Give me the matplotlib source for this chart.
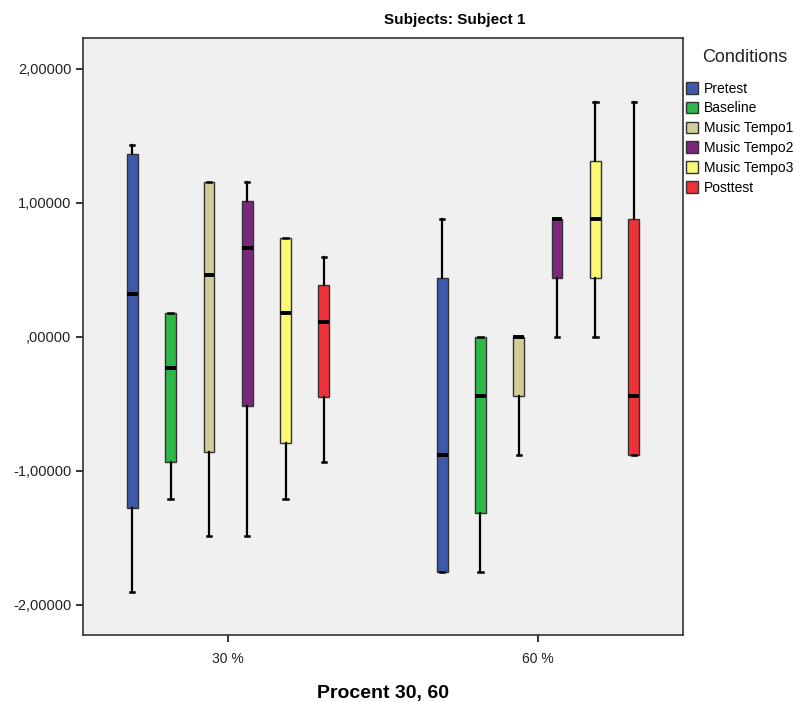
import matplotlib.pyplot as plt
import matplotlib.patches as mpatches

plt.rcParams['font.family'] = ['Liberation Sans', 'DejaVu Sans']

groups = ["30 %", "60 %"]
conditions = ["Pretest", "Baseline", "Music Tempo1", "Music Tempo2", "Music Tempo3", "Posttest"]
colors = ["#3E58AC", "#2EB848", "#D3CE97", "#79287D", "#FBF873", "#EF3038"]

# box stats: whislo, q1, med, q3, whishi
whislo_30 = [-1.90, -1.21, -1.485, -1.485, -1.21, -0.93]
q1_30 = [-1.276, -0.93, -0.86, -0.515, -0.79, -0.445]
med_30 = [0.32, -0.23, 0.46, 0.667, 0.18, 0.11]
q3_30 = [1.366, 0.18, 1.155, 1.015, 0.737, 0.388]
whishi_30 = [1.43, 0.18, 1.155, 1.155, 0.737, 0.597]

whislo_60 = [-1.756, -1.756, -0.878, 0.0, 0.0, -0.878]
q1_60 = [-1.756, -1.316, -0.439, 0.439, 0.439, -0.878]
med_60 = [-0.878, -0.439, 0.0, 0.878, 0.878, -0.439]
q3_60 = [0.439, 0.0, 0.0, 0.878, 1.316, 0.878]
whishi_60 = [0.878, 0.0, 0.0, 0.878, 1.756, 1.756]

yticks = [-2, -1, 0, 1, 2]
ytick_labels = ["-2,00000", "-1,00000", ",00000", "1,00000", "2,00000"]

fig = plt.figure(figsize=(8.07, 7.02), dpi=100)
ax = fig.add_axes([83 / 807, 1 - 635 / 702, 600 / 807, 597 / 702])
ax.set_facecolor("#F0F0F0")

step = 0.1236
width = 0.0345
group_data = [
    (whislo_30, q1_30, med_30, q3_30, whishi_30),
    (whislo_60, q1_60, med_60, q3_60, whishi_60),
]
for g, (lo, q1, med, q3, hi) in enumerate(group_data):
    for i in range(len(conditions)):
        stats = [{"whislo": lo[i], "q1": q1[i], "med": med[i], "q3": q3[i],
                  "whishi": hi[i], "fliers": []}]
        pos = g + (i - 2.5) * step
        ax.bxp(stats, positions=[pos], widths=width, capwidths=width * 0.4,
               patch_artist=True, showfliers=False, manage_ticks=False,
               boxprops=dict(facecolor=colors[i], edgecolor="#333333", linewidth=1.0),
               medianprops=dict(color="black", linewidth=2.8, solid_capstyle="butt"),
               whiskerprops=dict(color="black", linewidth=1.6),
               capprops=dict(color="black", linewidth=1.8))

ax.set_xlim(-0.468, 1.468)
ax.set_ylim(-2.224, 2.231)
ax.set_xticks([0, 1])
ax.set_xticklabels(groups, fontsize=10)
ax.set_yticks(yticks)
ax.set_yticklabels(ytick_labels, fontsize=10.5)
ax.tick_params(axis="both", direction="out", length=5, width=1.4, color="#333333",
               labelcolor="#222222")
ax.tick_params(axis="x", pad=7)
for sp in ax.spines.values():
    sp.set_color("#333333")
    sp.set_linewidth(1.2)

ax.set_xlabel("Procent 30, 60", fontsize=14, fontweight="bold", labelpad=14)
fig.text(455 / 807, 1 - 20 / 702, "Subjects: Subject 1", ha="center", va="center",
         fontsize=11, fontweight="bold")

# legend title placed separately to get the wider gap above the entries
fig.text(745 / 807, 1 - 57 / 702, "Conditions", ha="center", va="center",
         fontsize=13, color="#222222")
handles = [mpatches.Patch(facecolor=c, edgecolor="#333333", label=n)
           for c, n in zip(colors, conditions)]
leg = fig.legend(handles=handles, loc="upper left",
                 bbox_to_anchor=(680 / 807, 1 - 76 / 702), frameon=False,
                 fontsize=10, handlelength=0.9, handleheight=0.9,
                 handletextpad=0.4, labelspacing=0.42, borderaxespad=0)

fig.savefig("out.png", dpi=100)
